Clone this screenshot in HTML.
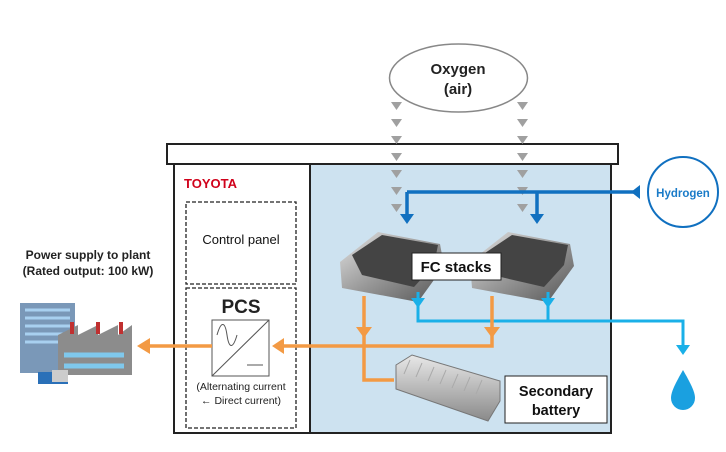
<!DOCTYPE html>
<html><head><meta charset="utf-8"><style>
body{margin:0;background:#fff;}
svg{display:block;font-family:"Liberation Sans",Arial,sans-serif;}
</style></head><body>
<svg width="726" height="452" viewBox="0 0 726 452" xmlns="http://www.w3.org/2000/svg">
<defs>
<linearGradient id="stk" x1="0" y1="0" x2="1" y2="1"><stop offset="0" stop-color="#e4e4e4"/><stop offset="0.5" stop-color="#999"/><stop offset="1" stop-color="#555"/></linearGradient>
<linearGradient id="bat" x1="0" y1="0" x2="0" y2="1"><stop offset="0" stop-color="#e8e8e8"/><stop offset="1" stop-color="#8a8a8a"/></linearGradient>
</defs>
<ellipse cx="458.5" cy="78" rx="69" ry="34" fill="#fff" stroke="#888" stroke-width="1.5"/>
<text x="458" y="74" text-anchor="middle" font-size="15" font-weight="bold" fill="#222">Oxygen</text>
<text x="458" y="94" text-anchor="middle" font-size="15" font-weight="bold" fill="#222">(air)</text>
<rect x="174" y="164" width="437" height="269" fill="#fff" stroke="#222" stroke-width="2"/>
<rect x="310" y="164" width="301" height="269" fill="#cde2f0" stroke="#222" stroke-width="2"/>
<rect x="167" y="144" width="451" height="20" fill="#fff" stroke="#222" stroke-width="2"/>
<g fill="#a0a0a0">
<path d="M391 102h11l-5.5 8z M391 119h11l-5.5 8z M391 136h11l-5.5 8z M391 153h11l-5.5 8z M391 170h11l-5.5 8z M391 187h11l-5.5 8z M391 204h11l-5.5 8z"/>
<path d="M517 102h11l-5.5 8z M517 119h11l-5.5 8z M517 136h11l-5.5 8z M517 153h11l-5.5 8z M517 170h11l-5.5 8z M517 187h11l-5.5 8z M517 204h11l-5.5 8z"/>
</g>
<text x="184" y="188" font-size="13" font-weight="bold" fill="#d0021b">TOYOTA</text>
<rect x="186" y="202" width="110" height="82" fill="none" stroke="#222" stroke-width="1.3" stroke-dasharray="4,2"/>
<rect x="186" y="288" width="110" height="140" fill="none" stroke="#222" stroke-width="1.3" stroke-dasharray="4,2"/>
<text x="241" y="244" text-anchor="middle" font-size="13" fill="#111">Control panel</text>
<text x="241" y="313" text-anchor="middle" font-size="19" font-weight="bold" fill="#222">PCS</text>
<rect x="212" y="320" width="57" height="56" fill="#fff" stroke="#555" stroke-width="1"/>
<path d="M212 376L269 320" stroke="#555"/>
<path d="M217 335c4-14 8-14 10 0s6 14 10 0" fill="none" stroke="#555"/>
<path d="M247 365h16" stroke="#555"/>
<text x="241" y="390" text-anchor="middle" font-size="10.5" fill="#222">(Alternating current</text>
<text x="241" y="404" text-anchor="middle" font-size="10.5" fill="#222">← Direct current)</text>
<path d="M407 192H640 M407 192V218 M537 192V218" stroke="#1070c0" stroke-width="3.5" fill="none"/>
<path d="M640 185v14l-9-7z" fill="#1070c0"/>
<path d="M400 214h14l-7 10z M530 214h14l-7 10z" fill="#1070c0"/>
<circle cx="683" cy="192" r="35" fill="#fff" stroke="#1070c0" stroke-width="2"/>
<text x="683" y="197" text-anchor="middle" font-size="11.5" font-weight="bold" fill="#1a7bc8">Hydrogen</text>
<g>
<path d="M340 262l38-30 62 12 4 22-26 36-76-14z" fill="url(#stk)"/>
<path d="M352 255l30-20 56 10-4 20-20 22-52-12z" fill="#444"/>
<path d="M470 262l38-30 62 12 4 22-26 36-76-14z" fill="url(#stk)"/>
<path d="M482 255l30-20 56 10-4 20-20 22-52-12z" fill="#444"/>
</g>
<rect x="412" y="253" width="89" height="27" fill="#fff" stroke="#222" stroke-width="1"/>
<text x="456" y="272" text-anchor="middle" font-size="15" font-weight="bold" fill="#111">FC stacks</text>
<path d="M418 292V321H683V345 M548 292V321" stroke="#1ab0e8" stroke-width="3" fill="none"/>
<path d="M411 298h14l-7 10z M541 298h14l-7 10z M676 345h14l-7 10z" fill="#1ab0e8"/>
<path d="M683 370c-8 14-12 22-12 28a12 12 0 0 0 24 0c0-6-4-14-12-28z" fill="#1aa0e0"/>
<path d="M364 296V380H394 M492 296V346H284 M212 346H150" stroke="#f39a44" stroke-width="3.5" fill="none"/>
<path d="M356 327h16l-8 11z M484 327h16l-8 11z" fill="#f39a44"/>
<path d="M284 338v16l-12-8z M150 338v16l-13-8z" fill="#f39a44"/>
<path d="M396 365l16-10 88 26 0 20-12 20-92-32z" fill="url(#bat)" stroke="#777"/>
<path d="M410 360l-6 14M422 363l-6 14M434 367l-6 14M446 370l-6 14M458 374l-6 14M470 377l-6 14M482 380l-6 14" stroke="#aaa" stroke-width="1"/>
<rect x="505" y="376" width="102" height="47" fill="#fff" stroke="#222" stroke-width="1"/>
<text x="556" y="396" text-anchor="middle" font-size="14.5" font-weight="bold" fill="#111">Secondary</text>
<text x="556" y="415" text-anchor="middle" font-size="14.5" font-weight="bold" fill="#111">battery</text>
<text x="88" y="259" text-anchor="middle" font-size="12" font-weight="bold" fill="#222">Power supply to plant</text>
<text x="88" y="275" text-anchor="middle" font-size="12" font-weight="bold" fill="#222">(Rated output: 100 kW)</text>
<rect x="20" y="303" width="55" height="70" fill="#7a98b8"/>
<path d="M25 310h45M25 318h45M25 326h45M25 334h45M25 342h45" stroke="#a8d0f0" stroke-width="3"/>
<path d="M58 335l20-10v10l20-10v10l20-10v10l14-10v50H58z" fill="#8c8c8c"/>
<rect x="70" y="322" width="4" height="12" fill="#c03030"/><rect x="96" y="322" width="4" height="12" fill="#c03030"/><rect x="119" y="322" width="4" height="12" fill="#c03030"/>
<path d="M64 355h60M64 366h60" stroke="#7fc8ec" stroke-width="5"/>
<rect x="38" y="372" width="30" height="12" fill="#2a70b8"/><rect x="52" y="370" width="16" height="12" fill="#ccc"/>
</svg>
</body></html>
